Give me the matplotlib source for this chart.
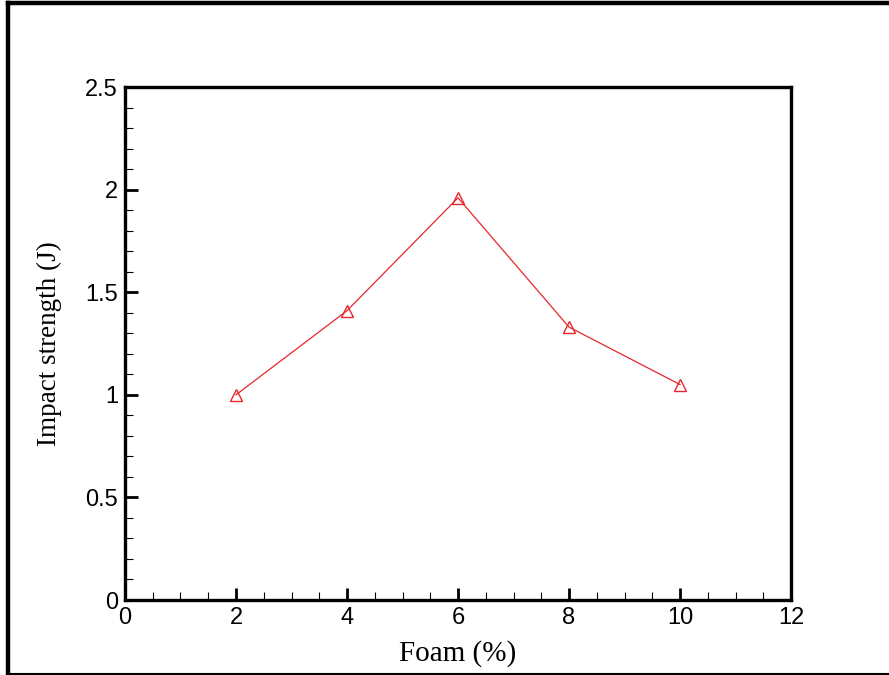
import matplotlib.pyplot as plt
from matplotlib.lines import Line2D
from matplotlib.ticker import MultipleLocator

# Impact strength vs foam content
foam_pct = [2, 4, 6, 8, 10]
impact_j = [1.00, 1.41, 1.96, 1.33, 1.05]

x_ticks = [0, 2, 4, 6, 8, 10, 12]
y_ticks = [0, 0.5, 1, 1.5, 2, 2.5]
y_tick_labels = ['0', '0.5', '1', '1.5', '2', '2.5']

fig = plt.figure(figsize=(8.89, 6.75), dpi=100)
ax = fig.add_axes([0.1406, 0.1111, 0.7492, 0.76])

ax.plot(foam_pct, impact_j, color='#e8262b', linewidth=0.9,
        marker='^', markersize=8, markerfacecolor='none',
        markeredgecolor='#e8262b', markeredgewidth=1.0)

ax.set_xlim(0, 12)
ax.set_ylim(0, 2.5)
ax.set_xticks(x_ticks)
ax.set_yticks(y_ticks)
ax.set_yticklabels(y_tick_labels)
ax.xaxis.set_minor_locator(MultipleLocator(0.5))
ax.yaxis.set_minor_locator(MultipleLocator(0.1))

# inward ticks on left/bottom only
ax.tick_params(which='both', direction='in', top=False, right=False)
ax.tick_params(which='major', length=9, width=2.0, pad=5,
               labelsize=17, labelfontfamily='Liberation Sans')
ax.tick_params(which='minor', length=5.5, width=0.8)

for s in ax.spines.values():
    s.set_linewidth(2.4)

ax.set_xlabel('Foam (%)', fontsize=21, family='Liberation Serif', labelpad=8)
ax.set_ylabel('Impact strength (J)', fontsize=19.5, family='Liberation Serif', labelpad=17)

# outer frame around the figure
fig.add_artist(Line2D([0.0085, 1.0], [0.9955, 0.9955], color='black', lw=3.2,
                      transform=fig.transFigure))
fig.add_artist(Line2D([0.0095, 0.0095], [0.0015, 0.9955], color='black', lw=3.2,
                      transform=fig.transFigure))
fig.add_artist(Line2D([0.0085, 1.0], [0.0022, 0.0022], color='black', lw=1.5,
                      transform=fig.transFigure))

fig.savefig('out.png', dpi=100)
